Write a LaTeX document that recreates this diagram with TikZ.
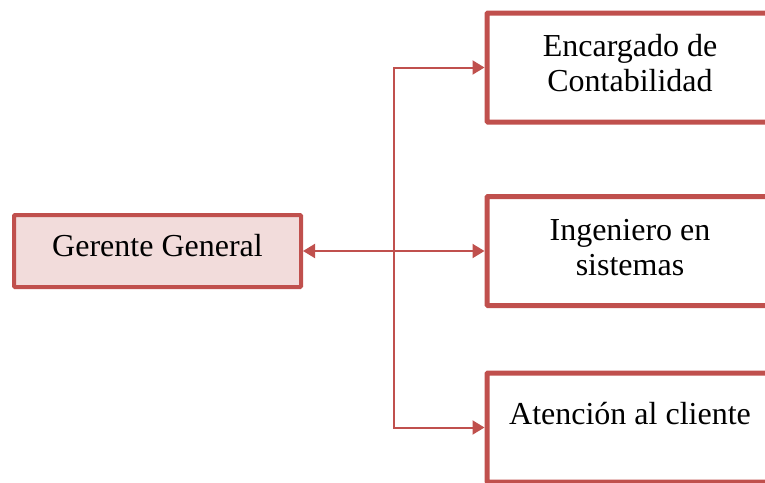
\documentclass[tikz,border=0pt]{standalone}
\usepackage{fontspec}
\setmainfont{Liberation Serif}
\usetikzlibrary{arrows.meta,positioning}
\definecolor{boxred}{HTML}{C0504D}
\definecolor{boxpink}{HTML}{F2DCDB}

\begin{document}
\begin{tikzpicture}[
    x=1pt, y=-1pt,
    font=\fontsize{32}{35}\selectfont,
    >={Triangle[length=12pt, width=14pt]},
    head/.style={draw=boxred, line width=4pt, fill=boxpink, rounded corners=1pt, minimum width=287pt, minimum height=72pt, text height=15pt, text depth=4pt},
    box/.style={draw=boxred, line width=5pt, rounded corners=1pt, minimum width=290pt, minimum height=109pt, inner sep=0pt},
    txt/.style={align=center, inner sep=0pt},
    arrow/.style={draw=boxred, line width=2pt}
]
\useasboundingbox (0,0) rectangle (765,482);
\clip (0,0) rectangle (765,482);

\node[head] (gerente) at (157.5,251) {Gerente General};
\node[box] (conta) at (632,67.5) {};
\node[box] (ing) at (632,251) {};
\node[box] (aten) at (632,427.5) {};

\node[txt] (contaTxt) at (630,63) {Encargado de\\Contabilidad};
\node[txt] (ingTxt) at (630,248) {Ingeniero en\\sistemas};
\node[txt, anchor=base] (atenTxt) at (630,424) {Atención al cliente};

\coordinate (hub) at (394,251);
\draw[arrow, <->] (gerente) -- (ing);
\draw[arrow, ->] (hub) |- (conta);
\draw[arrow, ->] (hub) |- (aten);
\end{tikzpicture}
\end{document}
